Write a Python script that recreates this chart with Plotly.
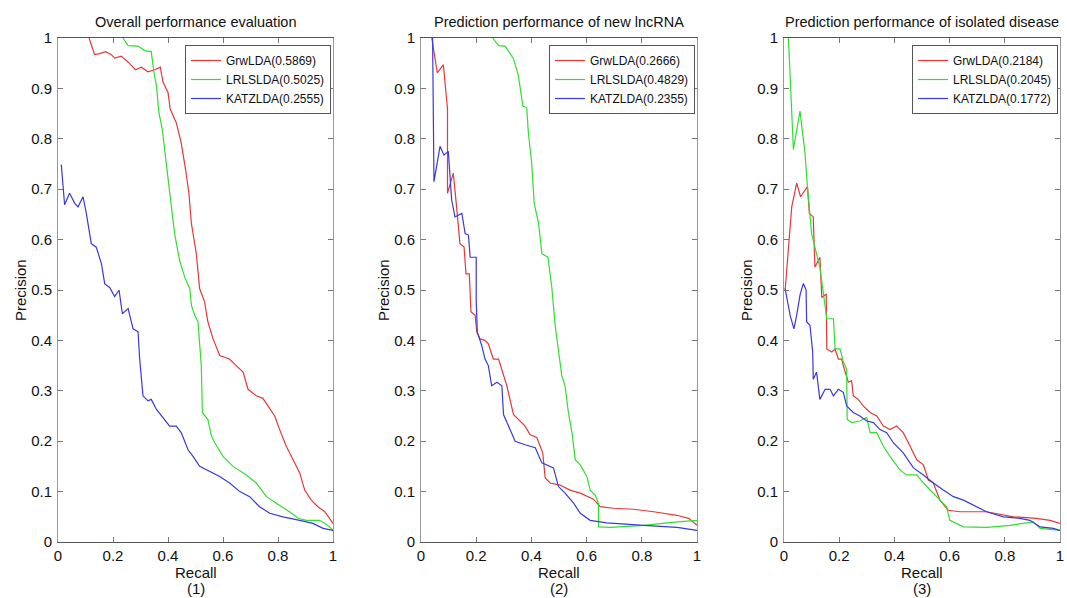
import plotly.graph_objects as go

# ---- data (recall, precision) ----
titles = ["Overall performance evaluation",
          "Prediction performance of new lncRNA",
          "Prediction performance of isolated disease"]
panel_labels = ["(1)", "(2)", "(3)"]
method_names = ["GrwLDA", "LRLSLDA", "KATZLDA"]
aupr = [["0.5869", "0.5025", "0.2555"],
        ["0.2666", "0.4829", "0.2355"],
        ["0.2184", "0.2045", "0.1772"]]

# panel 1
p1_grw_r = [0.113, 0.133, 0.152, 0.173, 0.194, 0.206, 0.23, 0.255, 0.282, 0.303, 0.327, 0.352, 0.372,
            0.382, 0.4, 0.408, 0.43, 0.448, 0.464, 0.476, 0.485, 0.503, 0.515, 0.533, 0.545, 0.564,
            0.588, 0.624, 0.648, 0.673, 0.691, 0.721, 0.745, 0.764, 0.788, 0.806, 0.83, 0.855, 0.879,
            0.897, 0.921, 0.945, 0.97, 1.0]
p1_grw_p = [1.0, 0.967, 0.969, 0.973, 0.967, 0.96, 0.964, 0.952, 0.937, 0.942, 0.933, 0.937, 0.942,
            0.912, 0.892, 0.859, 0.832, 0.792, 0.739, 0.692, 0.632, 0.572, 0.503, 0.477, 0.437, 0.403,
            0.37, 0.363, 0.35, 0.337, 0.303, 0.29, 0.285, 0.27, 0.25, 0.223, 0.19, 0.163, 0.137,
            0.103, 0.083, 0.07, 0.06, 0.037]
p1_lrl_r = [0.236, 0.255, 0.291, 0.315, 0.339, 0.348, 0.358, 0.367, 0.379, 0.388, 0.4, 0.412, 0.424,
            0.442, 0.461, 0.479, 0.485, 0.497, 0.509, 0.521, 0.525, 0.545, 0.558, 0.57, 0.6, 0.636,
            0.685, 0.721, 0.758, 0.794, 0.842, 0.873, 0.903, 0.952, 0.982, 1.0]
p1_lrl_p = [1.0, 0.985, 0.984, 0.975, 0.973, 0.935, 0.905, 0.852, 0.819, 0.779, 0.725, 0.665, 0.612,
            0.559, 0.525, 0.503, 0.47, 0.45, 0.437, 0.35, 0.257, 0.243, 0.21, 0.197, 0.17, 0.15,
            0.133, 0.117, 0.09, 0.077, 0.06, 0.047, 0.043, 0.043, 0.033, 0.023]
p1_katz_r = [0.012, 0.024, 0.042, 0.061, 0.073, 0.091, 0.103, 0.121, 0.139, 0.158, 0.17, 0.188, 0.206,
             0.222, 0.234, 0.255, 0.273, 0.291, 0.297, 0.309, 0.327, 0.339, 0.358, 0.382, 0.406,
             0.43, 0.448, 0.473, 0.491, 0.515, 0.552, 0.588, 0.624, 0.661, 0.697, 0.733, 0.77,
             0.818, 0.879, 0.927, 0.964, 1.0]
p1_katz_p = [0.749, 0.669, 0.692, 0.672, 0.665, 0.685, 0.652, 0.592, 0.585, 0.552, 0.512, 0.505, 0.487,
             0.5, 0.453, 0.463, 0.423, 0.417, 0.363, 0.29, 0.28, 0.283, 0.263, 0.247, 0.23,
             0.23, 0.217, 0.183, 0.17, 0.15, 0.14, 0.13, 0.117, 0.1, 0.09, 0.07, 0.057,
             0.05, 0.043, 0.037, 0.027, 0.023]

# panel 2
p2_grw_r = [0.039, 0.059, 0.081, 0.096, 0.096, 0.117, 0.129, 0.141, 0.156, 0.163, 0.175, 0.178, 0.181,
            0.196, 0.202, 0.214, 0.232, 0.244, 0.262, 0.281, 0.293, 0.311, 0.335, 0.359, 0.377,
            0.395, 0.42, 0.441, 0.45, 0.468, 0.504, 0.54, 0.577, 0.625, 0.649, 0.698, 0.77, 0.843,
            0.927, 0.97, 0.994, 1.0]
p2_grw_p = [1.0, 0.931, 0.947, 0.859, 0.692, 0.732, 0.665, 0.592, 0.585, 0.532, 0.532, 0.503, 0.457,
            0.45, 0.417, 0.403, 0.4, 0.393, 0.363, 0.363, 0.343, 0.31, 0.253, 0.24, 0.23,
            0.213, 0.207, 0.177, 0.127, 0.117, 0.113, 0.103, 0.097, 0.085, 0.07, 0.067, 0.065, 0.06,
            0.053, 0.047, 0.037, 0.033]
p2_lrl_r = [0.26, 0.281, 0.305, 0.335, 0.353, 0.369, 0.383, 0.389, 0.401, 0.41, 0.426, 0.438, 0.46,
            0.474, 0.486, 0.498, 0.51, 0.522, 0.534, 0.547, 0.559, 0.577, 0.601, 0.613, 0.631,
            0.643, 0.643, 0.686, 0.807, 0.928, 1.0]
p2_lrl_p = [1.0, 0.985, 0.984, 0.959, 0.925, 0.865, 0.862, 0.812, 0.752, 0.672, 0.632, 0.572, 0.565,
            0.505, 0.43, 0.377, 0.33, 0.31, 0.257, 0.217, 0.163, 0.153, 0.13, 0.103, 0.093,
            0.077, 0.03, 0.029, 0.033, 0.04, 0.043]
p2_katz_r = [0.042, 0.047, 0.069, 0.083, 0.099, 0.111, 0.123, 0.148, 0.16, 0.172, 0.178, 0.2, 0.2,
             0.204, 0.22, 0.232, 0.244, 0.256, 0.275, 0.293, 0.299, 0.317, 0.341, 0.377, 0.414,
             0.438, 0.48, 0.498, 0.522, 0.553, 0.577, 0.613, 0.673, 0.807, 0.928, 1.0]
p2_katz_p = [1.0, 0.715, 0.785, 0.768, 0.775, 0.679, 0.645, 0.652, 0.612, 0.609, 0.565, 0.565, 0.479,
             0.417, 0.39, 0.363, 0.35, 0.31, 0.317, 0.31, 0.253, 0.23, 0.2, 0.193, 0.187,
             0.157, 0.147, 0.11, 0.097, 0.077, 0.057, 0.043, 0.038, 0.033, 0.029, 0.023]

# panel 3
p3_grw_r = [0.004, 0.028, 0.046, 0.06, 0.085, 0.092, 0.106, 0.112, 0.13, 0.137, 0.153, 0.155, 0.173,
            0.185, 0.197, 0.209, 0.215, 0.233, 0.245, 0.251, 0.269, 0.287, 0.312, 0.336, 0.36,
            0.384, 0.408, 0.432, 0.457, 0.481, 0.505, 0.523, 0.541, 0.565, 0.595, 0.638, 0.734,
            0.831, 0.915, 0.964, 1.0]
p3_grw_p = [0.499, 0.665, 0.712, 0.685, 0.705, 0.652, 0.645, 0.545, 0.565, 0.485, 0.492, 0.383, 0.377,
            0.383, 0.363, 0.363, 0.35, 0.317, 0.32, 0.29, 0.283, 0.27, 0.257, 0.25, 0.23,
            0.223, 0.23, 0.217, 0.19, 0.163, 0.153, 0.123, 0.117, 0.083, 0.063, 0.06, 0.06,
            0.05, 0.047, 0.043, 0.037]
p3_lrl_r = [0.016, 0.034, 0.058, 0.076, 0.085, 0.1, 0.112, 0.13, 0.143, 0.149, 0.155, 0.179, 0.185,
            0.203, 0.215, 0.227, 0.229, 0.245, 0.275, 0.3, 0.312, 0.336, 0.36, 0.384, 0.42,
            0.444, 0.481, 0.505, 0.529, 0.565, 0.589, 0.601, 0.65, 0.734, 0.819, 0.903, 0.928, 1.0]
p3_lrl_p = [1.0, 0.779, 0.855, 0.772, 0.705, 0.612, 0.585, 0.545, 0.492, 0.463, 0.443, 0.443, 0.383,
            0.383, 0.357, 0.343, 0.243, 0.237, 0.24, 0.247, 0.217, 0.217, 0.19, 0.17, 0.143,
            0.133, 0.133, 0.117, 0.103, 0.083, 0.07, 0.043, 0.03, 0.029, 0.033, 0.04, 0.027, 0.023]
p3_katz_r = [0.004, 0.022, 0.036, 0.046, 0.058, 0.07, 0.08, 0.082, 0.094, 0.104, 0.106, 0.118, 0.13,
             0.149, 0.167, 0.179, 0.197, 0.215, 0.227, 0.251, 0.275, 0.3, 0.324, 0.348, 0.372,
             0.396, 0.432, 0.469, 0.505, 0.541, 0.577, 0.614, 0.65, 0.698, 0.734, 0.795, 0.855,
             0.891, 0.928, 0.976, 1.0]
p3_katz_p = [0.503, 0.45, 0.423, 0.45, 0.49, 0.513, 0.5, 0.437, 0.43, 0.377, 0.323, 0.337, 0.283,
             0.303, 0.303, 0.29, 0.303, 0.297, 0.27, 0.257, 0.25, 0.24, 0.237, 0.223, 0.217,
             0.197, 0.177, 0.147, 0.133, 0.117, 0.103, 0.09, 0.083, 0.07, 0.06, 0.05, 0.047,
             0.043, 0.03, 0.027, 0.023]

x_ticks = [0, 0.2, 0.4, 0.6, 0.8, 1]
y_ticks = [0, 0.1, 0.2, 0.3, 0.4, 0.5, 0.6, 0.7, 0.8, 0.9, 1]

panels = [
    [(p1_grw_r, p1_grw_p), (p1_lrl_r, p1_lrl_p), (p1_katz_r, p1_katz_p)],
    [(p2_grw_r, p2_grw_p), (p2_lrl_r, p2_lrl_p), (p2_katz_r, p2_katz_p)],
    [(p3_grw_r, p3_grw_p), (p3_lrl_r, p3_lrl_p), (p3_katz_r, p3_katz_p)],
]

colors = ["#e23a3a", "#33dd33", "#3a3ad4"]
font_family = "Liberation Sans, Arial, sans-serif"
text_color = "#111"

# pixel layout of the original (1067 x 598)
W, H = 1067, 598
x_domains = [(58, 333), (421, 697), (784, 1060)]
y_top, y_bot = 38, 542

fig = go.Figure()
layout = dict(
    width=W, height=H,
    margin=dict(l=0, r=0, t=0, b=0, autoexpand=False),
    paper_bgcolor="white", plot_bgcolor="white",
    font=dict(family=font_family, color=text_color),
    annotations=[],
)

for i, series in enumerate(panels):
    n = "" if i == 0 else str(i + 1)
    legend_name = "legend" if i == 0 else f"legend{i + 1}"
    for j, (r, p) in enumerate(series):
        fig.add_trace(go.Scatter(
            x=r, y=p, mode="lines",
            name=f"{method_names[j]}({aupr[i][j]})",
            line=dict(color=colors[j], width=1.2),
            xaxis="x" + n, yaxis="y" + n,
            legend=legend_name,
        ))
    x0, x1 = x_domains[i]
    axis_common = dict(
        showgrid=False, zeroline=False, showline=True, linewidth=1,
        mirror="ticks", ticks="inside", ticklen=5, tickcolor="#777", automargin=False,
        tickfont=dict(size=15, family=font_family, color=text_color),
    )
    layout["xaxis" + n] = dict(
        axis_common, domain=[x0 / W, x1 / W], range=[0, 1], anchor="y" + n,
        linecolor="#555", ticklabelstandoff=0,
        tickvals=x_ticks, ticktext=[f"{v:g}" for v in x_ticks],
    )
    layout["yaxis" + n] = dict(
        axis_common, domain=[1 - y_bot / H, 1 - y_top / H], range=[0, 1], anchor="x" + n,
        linecolor="#999", ticklabelstandoff=2,
        tickvals=y_ticks, ticktext=[f"{v:g}" for v in y_ticks],
    )
    layout[legend_name] = dict(
        x=(x1 - 2) / W, y=1 - 45 / H, xanchor="right", yanchor="top",
        bgcolor="white", bordercolor="#555", borderwidth=1,
        font=dict(size=12, family=font_family, color=text_color),
        tracegroupgap=0,
    )
    cx = (x0 + x1) / 2 / W
    layout["annotations"] += [
        dict(text=titles[i], x=cx, y=1 - 22 / H, xref="paper", yref="paper",
             xanchor="center", yanchor="middle", showarrow=False,
             font=dict(size=14.5, family=font_family, color=text_color)),
        dict(text="Recall", x=cx, y=1 - 572 / H, xref="paper", yref="paper",
             xanchor="center", yanchor="middle", showarrow=False,
             font=dict(size=15, family=font_family, color=text_color)),
        dict(text=panel_labels[i], x=cx, y=1 - 588 / H, xref="paper", yref="paper",
             xanchor="center", yanchor="middle", showarrow=False,
             font=dict(size=15, family=font_family, color=text_color)),
        dict(text="Precision", x=(x0 - 38) / W, y=1 - 290 / H, xref="paper", yref="paper",
             xanchor="center", yanchor="middle", showarrow=False, textangle=-90,
             font=dict(size=15, family=font_family, color=text_color)),
    ]

fig.update_layout(layout)
fig.write_html("out.html", config={"displayModeBar": False},
               post_script="document.body.style.margin='0';document.body.style.overflow='hidden';")
